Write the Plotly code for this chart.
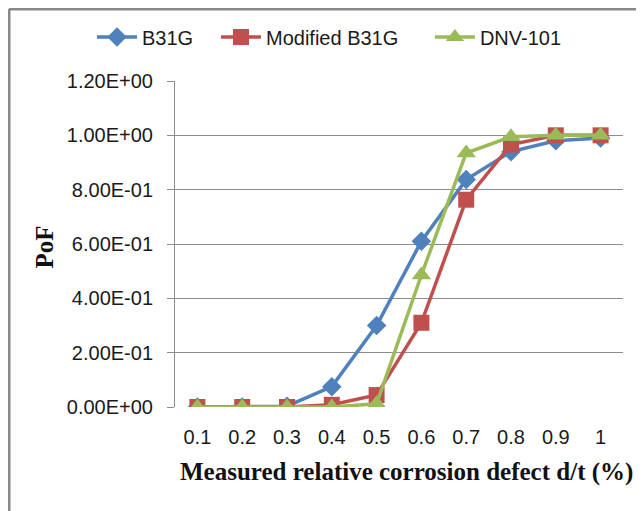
import plotly.graph_objects as go

# ── Dados ────────────────────────────────────────────────────────────────────
razao_dt = ["0.1", "0.2", "0.3", "0.4", "0.5", "0.6", "0.7", "0.8", "0.9", "1"]
pof_b31g = [0.0, 0.0, 0.003, 0.075, 0.30, 0.61, 0.837, 0.94, 0.98, 0.99]
pof_b31g_mod = [0.0, 0.0, 0.0, 0.008, 0.044, 0.31, 0.763, 0.966, 1.0, 1.0]
pof_dnv = [0.0, 0.0, 0.0, 0.0, 0.012, 0.486, 0.935, 0.995, 1.0, 1.0]

ticks_y = [0.0, 0.2, 0.4, 0.6, 0.8, 1.0, 1.2]
rotulos_y = ["0.00E+00", "2.00E-01", "4.00E-01", "6.00E-01",
             "8.00E-01", "1.00E+00", "1.20E+00"]

# ── Séries (cada uma com sua própria legenda, para espaçar como no original) ─
series = [
    ("B31G", pof_b31g, "#4F81BD", "diamond", 15, "legend", -0.1853),
    ("Modified B31G", pof_b31g_mod, "#C0504D", "square", 16, "legend2", 0.0915),
    ("DNV-101", pof_dnv, "#9BBB59", "triangle-up", 17, "legend3", 0.569),
]

fig = go.Figure()
legendas = {}
for nome, valores, cor, simbolo, tam, leg, x_leg in series:
    fig.add_trace(go.Scatter(
        x=razao_dt, y=valores, name=nome, legend=leg,
        mode="lines+markers",
        line=dict(color=cor, width=3.5),
        marker=dict(symbol=simbolo, size=tam, color=cor),
    ))
    legendas[leg] = dict(
        orientation="h", x=x_leg, xanchor="left", y=1.135, yanchor="middle",
        font=dict(size=20, color="#1a1a1a"), itemwidth=40,
        bgcolor="rgba(0,0,0,0)",
    )

fonte_titulo = dict(family="Liberation Serif, Times New Roman, serif",
                    size=25, color="#111", weight="bold")

fig.update_layout(
    width=644, height=511,
    paper_bgcolor="white", plot_bgcolor="white",
    margin=dict(l=167, r=29, t=73, b=112, autoexpand=False),
    font=dict(family="Liberation Sans, Arial, sans-serif", size=20, color="#1a1a1a"),
    showlegend=True,
    **legendas,
    xaxis=dict(
        type="category", range=[-0.5, 9.5],
        showgrid=False, showline=False, ticks="",
        tickfont=dict(size=20), ticklabelstandoff=16,
        automargin=False,
    ),
    yaxis=dict(
        range=[0, 1.2], tickvals=ticks_y, ticktext=rotulos_y,
        showgrid=True, gridcolor="#8c8c8c", gridwidth=1,
        zeroline=False,
        showline=True, linecolor="#8c8c8c", linewidth=1,
        ticks="outside", ticklen=7, tickcolor="#8c8c8c",
        tickfont=dict(size=20), ticklabelstandoff=10,
        automargin=False,
    ),
    annotations=[
        dict(text="Measured relative corrosion defect d/t (%)",
             xref="paper", yref="paper", x=0.516, y=-0.2, yanchor="middle",
             showarrow=False, font=fonte_titulo),
        dict(text="PoF", textangle=-90,
             xref="paper", yref="paper", x=-0.292, y=0.49, xanchor="center",
             showarrow=False, font=fonte_titulo),
    ],
    shapes=[
        # moldura externa (topo e esquerda)
        dict(type="line", xref="paper", yref="paper",
             x0=-0.3705, x1=1.1, y0=1.2209, y1=1.2209,
             line=dict(color="#888", width=3)),
        dict(type="line", xref="paper", yref="paper",
             x0=-0.3705, x1=-0.3705, y0=1.2209, y1=-0.4,
             line=dict(color="#888", width=3)),
    ],
)

fig.write_html("out.html")
